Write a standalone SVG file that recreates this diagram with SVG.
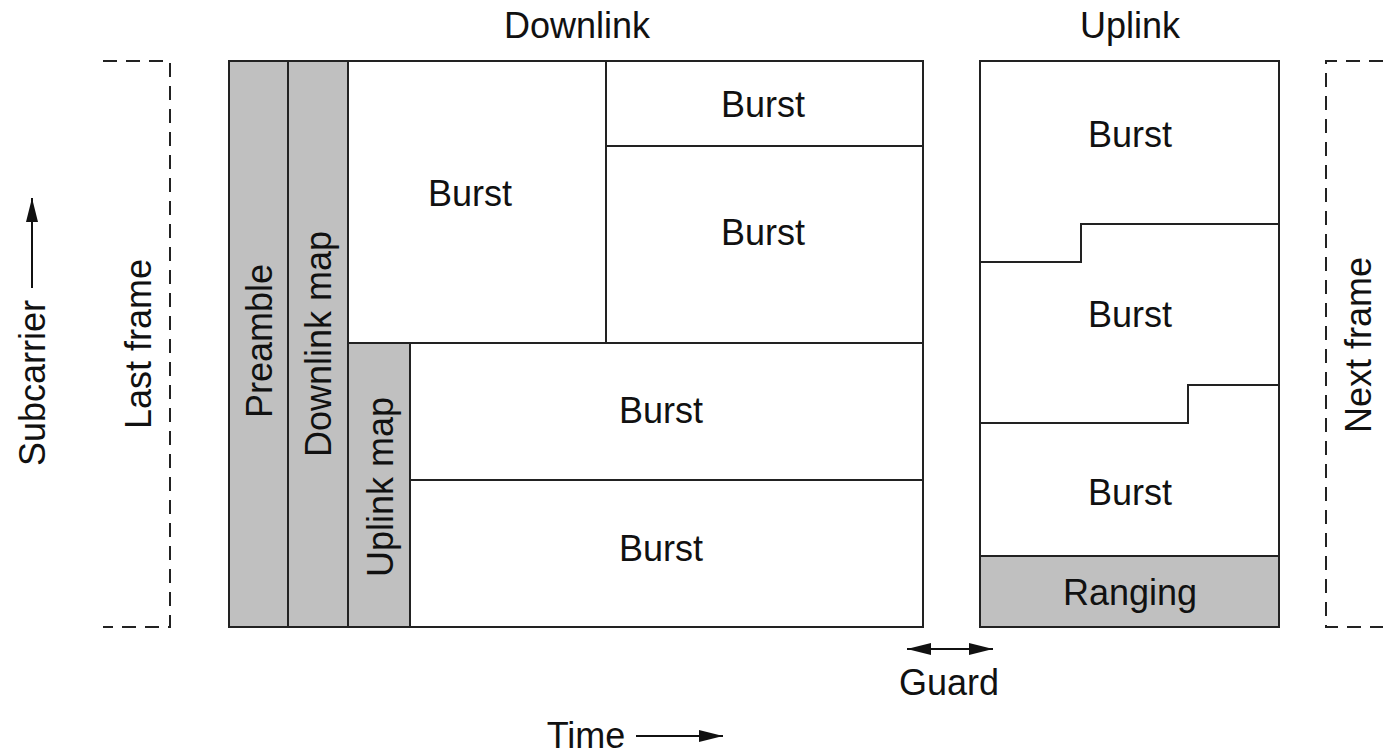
<svg xmlns="http://www.w3.org/2000/svg" width="1383" height="756" viewBox="0 0 1383 756">
<style>
.t{font-family:"Liberation Sans",Arial,sans-serif;font-size:36px;fill:#111;text-anchor:middle}
.b{fill:#fff;stroke:#222;stroke-width:2}
.g{fill:#c0c0c0;stroke:#222;stroke-width:2}
.l{fill:none;stroke:#222;stroke-width:2}
.d{fill:none;stroke:#222;stroke-width:2;stroke-dasharray:14,9}
</style>
<defs>
<marker id="ah" viewBox="0 0 10 10" refX="10" refY="5" markerWidth="10" markerHeight="8" markerUnits="userSpaceOnUse" orient="auto-start-reverse" preserveAspectRatio="none">
<path d="M0,0 L10,5 L0,10 z" fill="#111"/>
</marker>
<marker id="ah2" viewBox="0 0 10 10" refX="10" refY="5" markerWidth="24" markerHeight="12" markerUnits="userSpaceOnUse" orient="auto-start-reverse" preserveAspectRatio="none">
<path d="M0,0 L10,5 L0,10 z" fill="#111"/>
</marker>
</defs>
<text class="t" x="577" y="38">Downlink</text>
<text class="t" x="1130" y="38">Uplink</text>
<g id="last-frame">
<path class="d" d="M103,61 H170 V627 H103"/>
<text class="t" transform="translate(138,344) rotate(-90)" x="0" y="13">Last frame</text>
</g>
<g id="next-frame">
<path class="d" d="M1383,61 H1326 V627 H1383"/>
<text class="t" transform="translate(1358,345) rotate(-90)" x="0" y="13">Next frame</text>
</g>
<g id="downlink">
<rect class="b" x="229" y="61" width="694" height="566"/>
<g id="preamble"><rect class="g" x="229" y="61" width="59" height="566"/>
<text class="t" transform="translate(259,341) rotate(-90)" x="0" y="13">Preamble</text></g>
<g id="downlink-map"><rect class="g" x="288" y="61" width="60" height="566"/>
<text class="t" transform="translate(318,344) rotate(-90)" x="0" y="13">Downlink map</text></g>
<g id="uplink-map"><rect class="g" x="348" y="343" width="62" height="284"/>
<text class="t" transform="translate(380,487) rotate(-90)" x="0" y="13">Uplink map</text></g>
<g id="dl-burst1"><rect class="b" x="348" y="61" width="258" height="282"/><text class="t" x="470" y="206">Burst</text></g>
<g id="dl-burst2"><rect class="b" x="606" y="61" width="317" height="85"/><text class="t" x="763" y="117">Burst</text></g>
<g id="dl-burst3"><rect class="b" x="606" y="146" width="317" height="197"/><text class="t" x="763" y="245">Burst</text></g>
<g id="dl-burst4"><rect class="b" x="410" y="343" width="513" height="137"/><text class="t" x="661" y="423">Burst</text></g>
<g id="dl-burst5"><rect class="b" x="410" y="480" width="513" height="147"/><text class="t" x="661" y="561">Burst</text></g>
</g>
<g id="uplink">
<rect class="b" x="980" y="61" width="299" height="566"/>
<path class="l" d="M980,262 H1081 V224 H1279"/>
<path class="l" d="M980,423 H1188 V385 H1279"/>
<g id="ul-burst1"><text class="t" x="1130" y="147">Burst</text></g>
<g id="ul-burst2"><text class="t" x="1130" y="327">Burst</text></g>
<g id="ul-burst3"><text class="t" x="1130" y="505">Burst</text></g>
<g id="ranging"><rect class="g" x="980" y="556" width="299" height="71"/><text class="t" x="1130" y="605">Ranging</text></g>
</g>
<g id="connectors">
<line x1="32" y1="288" x2="32" y2="198" stroke="#111" stroke-width="2" marker-end="url(#ah2)"/>
<line x1="907" y1="649" x2="993" y2="649" stroke="#111" stroke-width="2" marker-start="url(#ah2)" marker-end="url(#ah2)"/>
<line x1="636" y1="736" x2="723" y2="736" stroke="#111" stroke-width="2" marker-end="url(#ah2)"/>
</g>
<text class="t" x="32" y="383" transform="rotate(-90,32,383)" dy="13">Subcarrier</text>
<text class="t" x="949" y="695">Guard</text>
<text class="t" x="586" y="748">Time</text>
</svg>
